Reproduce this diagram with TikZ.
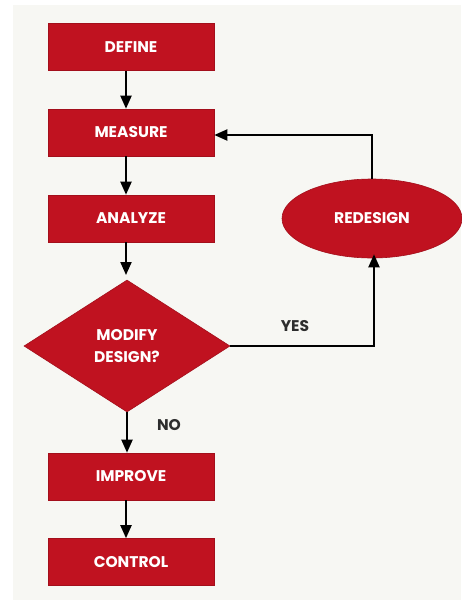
\documentclass[tikz,border=0pt]{standalone}
\usepackage{fontspec}
\setmainfont{Poppins}
\usetikzlibrary{shapes.geometric,arrows.meta}
\definecolor{boxred}{RGB}{192,18,32}
\definecolor{panel}{RGB}{247,247,243}
\definecolor{labelgrey}{RGB}{45,45,45}
\begin{document}
\begin{tikzpicture}[x=1pt,y=-1pt,
  stepbox/.style={rectangle,fill=boxred,draw=boxred!85!black,line width=0.6pt,
    minimum width=166pt,minimum height=47pt,inner sep=0pt,
    text=white,font=\bfseries\fontsize{15.5}{17}\selectfont},
  decision/.style={diamond,fill=boxred,draw=boxred!85!black,line width=0.6pt,
    minimum width=206pt,minimum height=132pt,inner sep=0pt,aspect=1.56,
    text=white,align=center,font=\bfseries\fontsize{15.5}{22}\selectfont},
  oval/.style={ellipse,fill=boxred,draw=boxred!85!black,line width=0.6pt,
    minimum width=180pt,minimum height=79pt,inner sep=0pt,
    text=white,font=\bfseries\fontsize{15.5}{17}\selectfont},
  flow/.style={draw=black,line width=2pt,-{Triangle[length=13pt,width=11pt]}},
  answer/.style={text=labelgrey,font=\bfseries\fontsize{15.5}{17}\selectfont}]
  \useasboundingbox (0,0) rectangle (461,600);
  \fill[white] (0,0) rectangle (461,600);
  \fill[panel] (13,5) rectangle (461,600);

  \node[stepbox] (define)  at (131,47)    {DEFINE};
  \node[stepbox] (measure) at (131,132.5) {MEASURE};
  \node[stepbox] (analyze) at (131,218.5) {ANALYZE};
  \node[decision] (modify) at (127,346)   {MODIFY\\DESIGN?};
  \node[stepbox] (improve) at (131,476.5) {IMPROVE};
  \node[stepbox] (control) at (131,562)   {CONTROL};
  \node[oval] (redesign)   at (372,218.5) {REDESIGN};

  \coordinate (turnup)   at (374,346);
  \coordinate (turnleft) at (372,135);
  \coordinate (abovetop) at (126,275);

  \draw[flow] (define.south -| 126,0)  -- (measure.north -| 126,0);
  \draw[flow] (measure.south -| 126,0) -- (analyze.north -| 126,0);
  \draw[flow] (analyze.south -| abovetop) -- (abovetop);
  \draw[flow] (modify.south) -- (improve.north -| modify.south);
  \draw[flow] (improve.south -| 126,0) -- (control.north -| 126,0);
  \draw[flow] (modify.east) -- (turnup) -- ([yshift=4pt]redesign.south -| turnup);
  \draw[flow] (redesign.north) -- (turnleft) -- (measure.east |- turnleft);

  \node[answer] (yes) at (295,326) {YES};
  \node[answer] (no)  at (169,425) {NO};
\end{tikzpicture}
\end{document}
